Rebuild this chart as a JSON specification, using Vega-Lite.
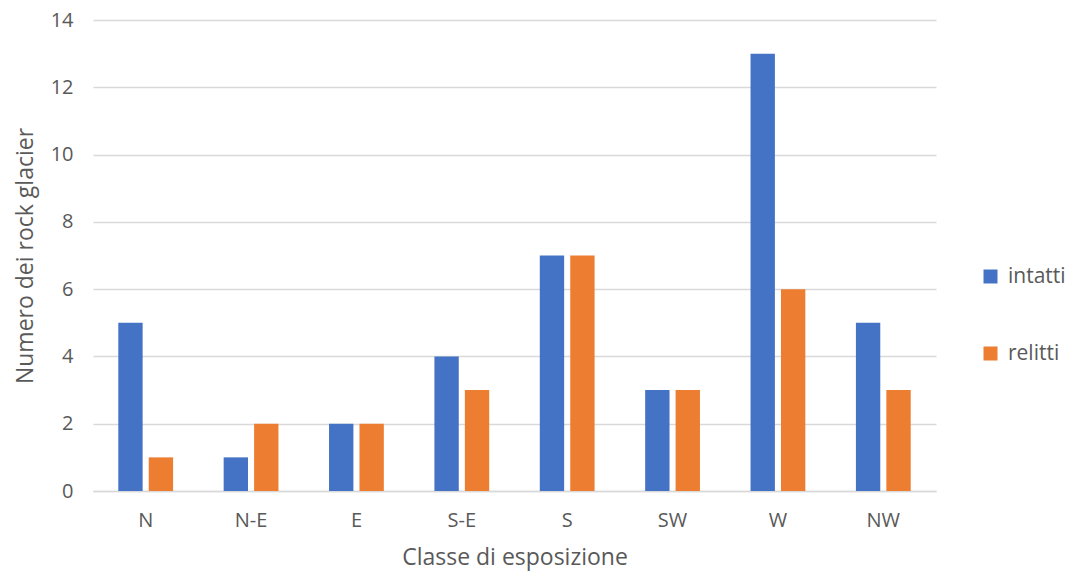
{
  "$schema": "https://vega.github.io/schema/vega-lite/v6.json",
  "width": 843,
  "height": 471,
  "autosize": "none",
  "padding": {"left": 93, "top": 20, "right": 131, "bottom": 82},
  "background": "white",
  "config": {
    "view": {"stroke": null},
    "font": "Open Sans",
    "axis": {"labelColor": "#595959", "titleColor": "#595959", "labelFont": "Open Sans", "titleFont": "Open Sans", "titleFontWeight": "normal"}
  },
  "data": {
    "values": [
      {"classe": "N", "tipo": "intatti", "n": 5},
      {"classe": "N", "tipo": "relitti", "n": 1},
      {"classe": "N-E", "tipo": "intatti", "n": 1},
      {"classe": "N-E", "tipo": "relitti", "n": 2},
      {"classe": "E", "tipo": "intatti", "n": 2},
      {"classe": "E", "tipo": "relitti", "n": 2},
      {"classe": "S-E", "tipo": "intatti", "n": 4},
      {"classe": "S-E", "tipo": "relitti", "n": 3},
      {"classe": "S", "tipo": "intatti", "n": 7},
      {"classe": "S", "tipo": "relitti", "n": 7},
      {"classe": "SW", "tipo": "intatti", "n": 3},
      {"classe": "SW", "tipo": "relitti", "n": 3},
      {"classe": "W", "tipo": "intatti", "n": 13},
      {"classe": "W", "tipo": "relitti", "n": 6},
      {"classe": "NW", "tipo": "intatti", "n": 5},
      {"classe": "NW", "tipo": "relitti", "n": 3}
    ]
  },
  "mark": {"type": "bar"},
  "encoding": {
    "x": {
      "field": "classe", "type": "nominal",
      "sort": ["N", "N-E", "E", "S-E", "S", "SW", "W", "NW"],
      "scale": {"paddingInner": 0.48, "paddingOuter": 0.24},
      "axis": {
        "title": "Classe di esposizione", "labelAngle": 0, "ticks": false,
        "domainColor": "#d9d9d9", "domainWidth": 1.5,
        "labelFontSize": 20, "titleFontSize": 23, "labelPadding": 19, "titlePadding": 16
      }
    },
    "xOffset": {"field": "tipo", "type": "nominal", "scale": {"paddingInner": 0.2}},
    "y": {
      "field": "n", "type": "quantitative",
      "scale": {"domain": [0, 14]},
      "axis": {
        "title": "Numero dei rock glacier", "values": [0, 2, 4, 6, 8, 10, 12, 14],
        "domain": false, "ticks": false, "gridColor": "#d9d9d9", "gridWidth": 1.5,
        "labelFontSize": 20, "titleFontSize": 23, "labelPadding": 20, "titlePadding": 13
      }
    },
    "color": {
      "field": "tipo", "type": "nominal",
      "scale": {"domain": ["intatti", "relitti"], "range": ["#4472C4", "#ED7D31"]},
      "legend": {
        "title": null, "orient": "none", "legendX": 887, "legendY": 246,
        "symbolType": "square", "symbolSize": 196, "labelFontSize": 21,
        "labelColor": "#595959", "labelFont": "Open Sans", "rowPadding": 55, "labelOffset": 7
      }
    }
  }
}
